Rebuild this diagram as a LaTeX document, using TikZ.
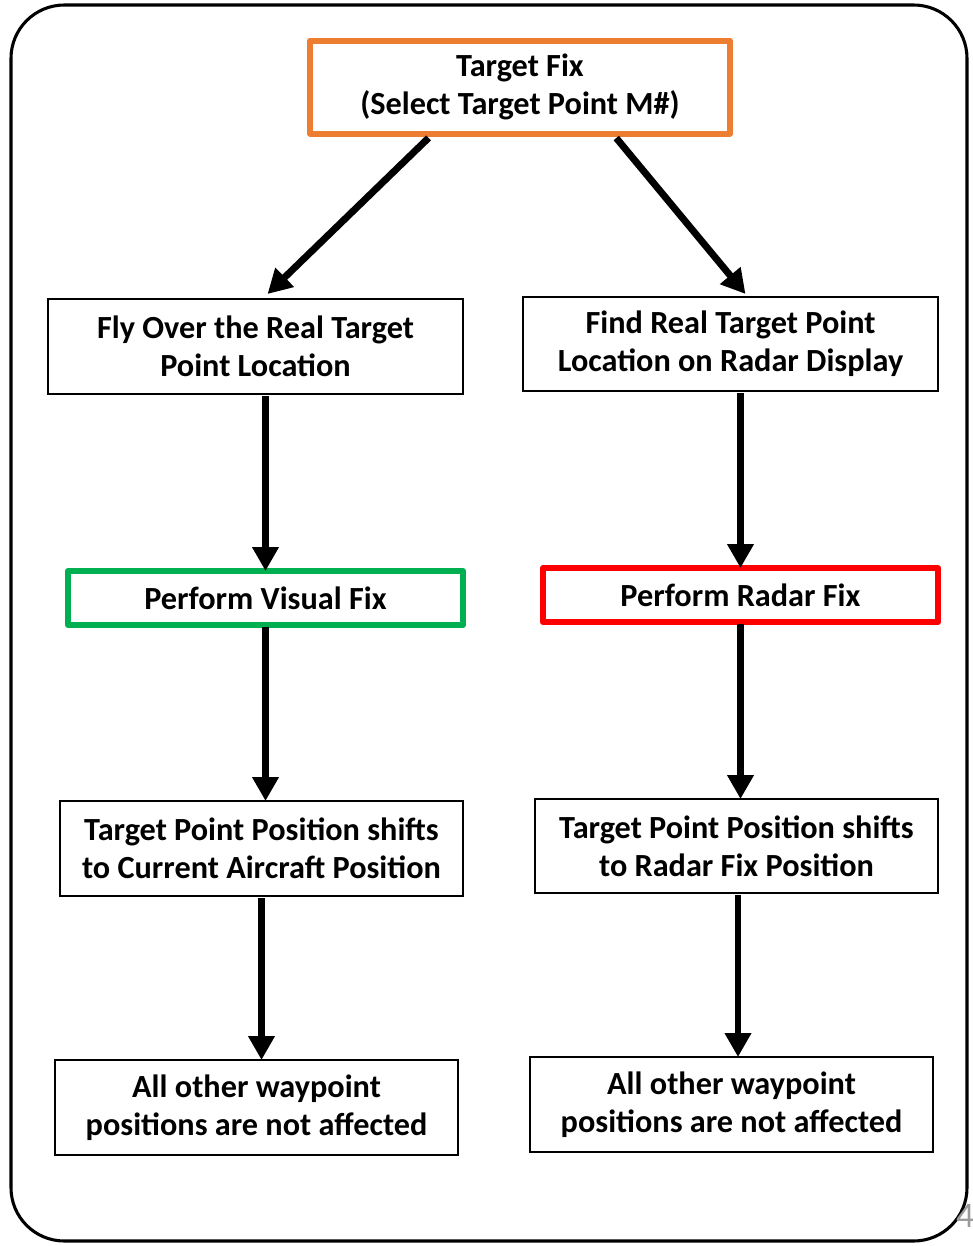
\documentclass[tikz,border=0pt]{standalone}
\usepackage{fontspec}
\setmainfont{Carlito}
\usetikzlibrary{arrows.meta,calc}
\definecolor{fixorange}{HTML}{ED7D31}
\definecolor{fixgreen}{HTML}{00B050}
\definecolor{fixred}{HTML}{FF0000}
\definecolor{pagegray}{HTML}{9A9A9A}
\tikzset{
  x=0.75pt, y=-0.75pt,
  every node/.style={font=\bfseries\fontsize{24.2pt}{28.5pt}\selectfont, align=center, inner sep=0pt, outer sep=0pt},
  boxsize/.style n args={2}{minimum width=#1*0.75pt, minimum height=#2*0.75pt},
  plainbox/.style={draw=black, line width=1.5pt, fill=white},
  fixbox/.style={draw=#1, line width=4.5pt, line join=round, fill=white},
  flow/.style={line width=5.2pt, -{Triangle[length=18pt,width=19pt]}, shorten <=1.5pt},
}
\begin{document}
\begin{tikzpicture}
\useasboundingbox (0,0) rectangle (973,1246);
% frame around the whole chart
\draw[line width=2.3pt, rounded corners=40pt] (11,5) rectangle (967,1241);

% boxes
\node[fixbox=fixorange, boxsize={420}{93}] (top) at (520,87) {Target Fix\\(Select Target Point M\#)};

\node[plainbox, boxsize={415}{95}] (flyover) at (255.5,346.5) {Fly Over the Real Target\\Point Location};
\node[plainbox, boxsize={415}{94}] (findradar) at (730.5,344) {Find Real Target Point\\Location on Radar Display};

\node[fixbox=fixgreen, boxsize={395}{54}] (visual) at (265.5,598) {Perform Visual Fix};
\node[fixbox=fixred, boxsize={395}{54}] (radar) at (740.5,595) {Perform Radar Fix};

\node[plainbox, boxsize={403}{95}] (shiftac) at (261.5,848.5) {Target Point Position shifts\\to Current Aircraft Position};
\node[plainbox, boxsize={403}{94}] (shiftrf) at (736.5,846) {Target Point Position shifts\\to Radar Fix Position};

\node[plainbox, boxsize={403}{95}] (otherl) at (256.5,1107.5) {All other waypoint\\positions are not affected};
\node[plainbox, boxsize={403}{95}] (otherr) at (731.5,1104.5) {All other waypoint\\positions are not affected};

% connectors
\draw[flow] ($(top.south)+(-90,3)$) -- ($(flyover.north)+(12,-5)$);
\draw[flow] ($(top.south)+(95,3)$) -- ($(findradar.north)+(15,-3)$);
\draw[flow] (flyover.south -| visual.north) -- (visual.north);
\draw[flow] (findradar.south -| radar.north) -- (radar.north);
\draw[flow] (visual.south) -- (visual.south |- shiftac.north);
\draw[flow] (radar.south) -- (radar.south |- shiftrf.north);
\draw[flow] (shiftac.south) -- (shiftac.south |- otherl.north);
\draw[flow] ($(shiftrf.south)+(1.5,0)$) -- ($(shiftrf.south |- otherr.north)+(1.5,0)$);

% page number
\node[font=\fontsize{27pt}{30pt}\selectfont, text=pagegray, anchor=west] (pagenum) at (956,1216) {4};
\end{tikzpicture}
\end{document}
